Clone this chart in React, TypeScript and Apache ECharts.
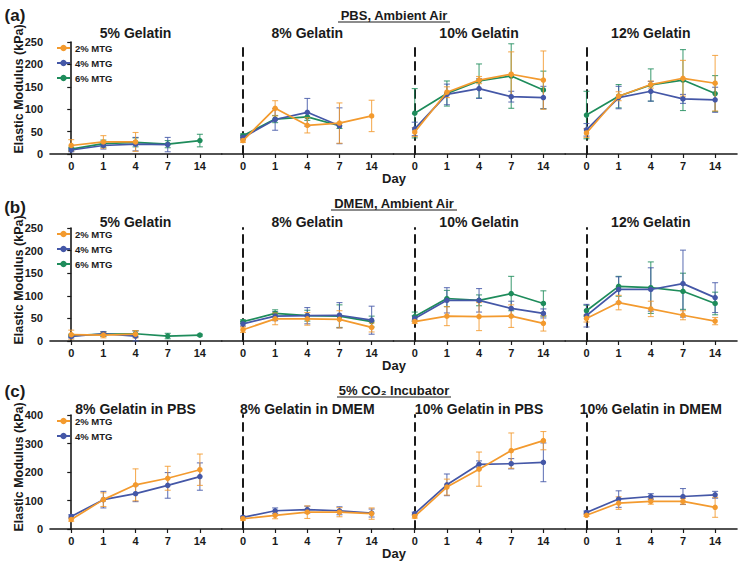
import React, { useEffect, useRef } from "react";
import * as echarts from "echarts";

// ---------- labels ----------
const DAYS = ["0", "1", "4", "7", "14"];
const MTG_NAMES = ["2% MTG", "4% MTG", "6% MTG"];
const ROW_LETTERS = ["(a)", "(b)", "(c)"];
const ROW_TITLES = ["PBS, Ambient Air", "DMEM, Ambient Air", "5% CO\u2082 Incubator"];
const PANEL_TITLES_AMBIENT = ["5% Gelatin", "8% Gelatin", "10% Gelatin", "12% Gelatin"];
const PANEL_TITLES_CO2 = ["8% Gelatin in PBS", "8% Gelatin in DMEM", "10% Gelatin in PBS", "10% Gelatin in DMEM"];
const Y_NAME = "Elastic Modulus (kPa)";
const X_NAME = "Day";
const Y_MAX = [250, 250, 400];
const Y_STEP = [50, 50, 100];

// ---------- (a) PBS, ambient air : mean / sd ----------
const pbs5_2 = [19, 27, 27];
const pbs5_2sd = [13, 14, 21];
const pbs5_4 = [9, 19, 22, 21];
const pbs5_4sd = [4, 8, 15, 16];
const pbs5_6 = [11, 23, 26, 22, 30];
const pbs5_6sd = [4, 8, 10, 8, 14];

const pbs8_2 = [30, 102, 64, 69, 85];
const pbs8_2sd = [4, 17, 17, 45, 35];
const pbs8_4 = [37, 77, 93, 63];
const pbs8_4sd = [5, 24, 31, 40];
const pbs8_6 = [41, 78, 83, 63];
const pbs8_6sd = [4, 8, 8, 6];

const pbs10_2 = [49, 138, 165, 178, 165];
const pbs10_2sd = [10, 12, 8, 50, 65];
const pbs10_4 = [56, 133, 146, 128, 126];
const pbs10_4sd = [15, 23, 22, 12, 25];
const pbs10_6 = [91, 135, 163, 174, 143];
const pbs10_6sd = [55, 28, 38, 72, 42];

const pbs12_2 = [47, 129, 155, 169, 158];
const pbs12_2sd = [10, 10, 8, 40, 62];
const pbs12_4 = [54, 126, 140, 123, 121];
const pbs12_4sd = [14, 25, 22, 10, 28];
const pbs12_6 = [87, 129, 154, 165, 135];
const pbs12_6sd = [53, 26, 36, 68, 40];

// ---------- (b) DMEM, ambient air ----------
const dm5_2 = [14, 13, 15];
const dm5_2sd = [10, 6, 8];
const dm5_4 = [10, 16, 11];
const dm5_4sd = [3, 5, 11];
const dm5_6 = [12, 15, 16, 11, 13];
const dm5_6sd = [3, 5, 7, 6, 2];

const dm8_2 = [25, 49, 49, 48, 30];
const dm8_2sd = [6, 13, 14, 19, 10];
const dm8_4 = [38, 55, 56, 57, 46];
const dm8_4sd = [5, 10, 18, 28, 31];
const dm8_6 = [43, 61, 56, 55, 43];
const dm8_6sd = [4, 8, 12, 25, 12];

const dm10_2 = [43, 55, 54, 55, 39];
const dm10_2sd = [4, 21, 31, 25, 17];
const dm10_4 = [50, 90, 90, 72, 61];
const dm10_4sd = [6, 28, 26, 16, 10];
const dm10_6 = [54, 94, 90, 105, 83];
const dm10_6sd = [10, 18, 12, 38, 28];

const dm12_2 = [50, 85, 71, 57, 44];
const dm12_2sd = [8, 16, 17, 10, 8];
const dm12_4 = [56, 114, 114, 127, 96];
const dm12_4sd = [25, 28, 48, 74, 33];
const dm12_6 = [67, 121, 118, 110, 83];
const dm12_6sd = [12, 22, 57, 40, 25];

// ---------- (c) 5% CO2 incubator ----------
const co8pbs_2 = [33, 103, 155, 178, 208];
const co8pbs_2sd = [6, 24, 56, 42, 55];
const co8pbs_4 = [44, 103, 124, 153, 184];
const co8pbs_4sd = [6, 29, 28, 45, 48];

const co8dm_2 = [36, 48, 59, 59, 54];
const co8dm_2sd = [5, 12, 22, 16, 20];
const co8dm_4 = [41, 64, 68, 64, 56];
const co8dm_4sd = [4, 10, 12, 14, 14];

const co10pbs_2 = [44, 147, 210, 275, 310];
const co10pbs_2sd = [6, 28, 60, 62, 32];
const co10pbs_4 = [54, 155, 227, 229, 234];
const co10pbs_4sd = [5, 38, 12, 18, 68];

const co10dm_2 = [48, 91, 97, 97, 76];
const co10dm_2sd = [4, 22, 10, 10, 35];
const co10dm_4 = [58, 105, 114, 114, 120];
const co10dm_4sd = [5, 29, 10, 28, 12];

// ---------- styling / layout ----------
const COLORS = ["#F39A2E", "#4457A7", "#1E8C5B"];
const FONT = "'Liberation Sans', Arial, Helvetica, sans-serif";
const INK = "#1a1a1a";
const GRID_X0 = 50;
const PANEL_W = 171.75;
const ROW_TOP = [42, 228, 415];
const ROW_H = [112, 113, 114];
const X_MIN = -0.66;
const X_MAX = 4.68;

type Panel = { title: string; series: [number[], number[]][] };

const ROWS: Panel[][] = [
  [
    { title: PANEL_TITLES_AMBIENT[0], series: [[pbs5_2, pbs5_2sd], [pbs5_4, pbs5_4sd], [pbs5_6, pbs5_6sd]] },
    { title: PANEL_TITLES_AMBIENT[1], series: [[pbs8_2, pbs8_2sd], [pbs8_4, pbs8_4sd], [pbs8_6, pbs8_6sd]] },
    { title: PANEL_TITLES_AMBIENT[2], series: [[pbs10_2, pbs10_2sd], [pbs10_4, pbs10_4sd], [pbs10_6, pbs10_6sd]] },
    { title: PANEL_TITLES_AMBIENT[3], series: [[pbs12_2, pbs12_2sd], [pbs12_4, pbs12_4sd], [pbs12_6, pbs12_6sd]] },
  ],
  [
    { title: PANEL_TITLES_AMBIENT[0], series: [[dm5_2, dm5_2sd], [dm5_4, dm5_4sd], [dm5_6, dm5_6sd]] },
    { title: PANEL_TITLES_AMBIENT[1], series: [[dm8_2, dm8_2sd], [dm8_4, dm8_4sd], [dm8_6, dm8_6sd]] },
    { title: PANEL_TITLES_AMBIENT[2], series: [[dm10_2, dm10_2sd], [dm10_4, dm10_4sd], [dm10_6, dm10_6sd]] },
    { title: PANEL_TITLES_AMBIENT[3], series: [[dm12_2, dm12_2sd], [dm12_4, dm12_4sd], [dm12_6, dm12_6sd]] },
  ],
  [
    { title: PANEL_TITLES_CO2[0], series: [[co8pbs_2, co8pbs_2sd], [co8pbs_4, co8pbs_4sd]] },
    { title: PANEL_TITLES_CO2[1], series: [[co8dm_2, co8dm_2sd], [co8dm_4, co8dm_4sd]] },
    { title: PANEL_TITLES_CO2[2], series: [[co10pbs_2, co10pbs_2sd], [co10pbs_4, co10pbs_4sd]] },
    { title: PANEL_TITLES_CO2[3], series: [[co10dm_2, co10dm_2sd], [co10dm_4, co10dm_4sd]] },
  ],
];

function buildOption() {
  const grid: any[] = [];
  const xAxis: any[] = [];
  const yAxis: any[] = [];
  const series: any[] = [];
  const legend: any[] = [];
  const graphic: any[] = [];

  const ROW_LETTER_Y = [15, 207, 391];
  const ROW_TITLE_Y = [15, 203, 390];
  const UNDERLINE_HALF = [56, 63, 57];
  const PANEL_TITLE_Y = [33, 222, 409];
  const DAY_Y = [178, 365, 553];
  const YNAME_Y = [89, 280, 467];

  ROWS.forEach((panels, r) => {
    panels.forEach((panel, p) => {
      const gi = r * 4 + p;
      const left = GRID_X0 + p * PANEL_W;
      grid.push({ left, top: ROW_TOP[r], width: PANEL_W, height: ROW_H[r], containLabel: false });
      xAxis.push({
        type: "value",
        gridIndex: gi,
        min: X_MIN,
        max: X_MAX,
        splitLine: { show: false },
        axisLine: { show: true, onZero: false, lineStyle: { color: INK, width: 1.6 } },
        axisTick: { show: true, customValues: [0, 1, 2, 3, 4], length: 4, lineStyle: { color: INK, width: 1.2 } },
        axisLabel: {
          customValues: [0, 1, 2, 3, 4],
          formatter: (v: number) => DAYS[Math.round(v)] ?? "",
          margin: 6,
          color: INK,
          fontSize: 11,
          fontWeight: "bold",
          fontFamily: FONT,
        },
      });
      const first = p === 0;
      yAxis.push({
        type: "value",
        gridIndex: gi,
        min: 0,
        max: Y_MAX[r],
        interval: Y_STEP[r],
        splitLine: { show: false },
        axisLine: {
          show: true,
          lineStyle: first
            ? { color: INK, width: 1.6 }
            : { color: INK, width: 2, type: [8, 6] },
        },
        axisTick: { show: first, length: 4, lineStyle: { color: INK, width: 1.2 } },
        axisLabel: {
          show: first,
          margin: 7,
          color: INK,
          fontSize: 11,
          fontWeight: "bold",
          fontFamily: FONT,
        },
      });

      panel.series.forEach(([mean, sd], s) => {
        const color = COLORS[s];
        const errData = mean.map((m, i) => [i, Math.max(0, m - sd[i]), m + sd[i]]);
        series.push({
          type: "custom",
          name: MTG_NAMES[s] + " error",
          xAxisIndex: gi,
          yAxisIndex: gi,
          z: 2 + (2 - s),
          data: errData,
          encode: { x: 0, y: [1, 2] },
          silent: true,
          renderItem: (_params: any, api: any) => {
            const x = api.value(0);
            const lo = api.coord([x, api.value(1)]);
            const hi = api.coord([x, api.value(2)]);
            const hw = 3;
            const st = { stroke: color, lineWidth: 1.1, opacity: 0.8 };
            return {
              type: "group",
              children: [
                { type: "line", shape: { x1: lo[0], y1: lo[1], x2: hi[0], y2: hi[1] }, style: st },
                { type: "line", shape: { x1: lo[0] - hw, y1: lo[1], x2: lo[0] + hw, y2: lo[1] }, style: st },
                { type: "line", shape: { x1: hi[0] - hw, y1: hi[1], x2: hi[0] + hw, y2: hi[1] }, style: st },
              ],
            };
          },
        });
        series.push({
          type: "line",
          name: MTG_NAMES[s],
          xAxisIndex: gi,
          yAxisIndex: gi,
          z: 3 + (2 - s) * 2,
          data: mean.map((m, i) => [i, m]),
          color,
          symbol: "circle",
          symbolSize: 5.5,
          lineStyle: { color, width: 1.7 },
          itemStyle: { color },
        });
      });

      graphic.push({
        type: "text",
        x: left + (-X_MIN + 2) * (PANEL_W / (X_MAX - X_MIN)),
        y: PANEL_TITLE_Y[r],
        style: {
          text: panel.title,
          fill: INK,
          font: `bold 14px ${FONT}`,
          align: "center",
          verticalAlign: "middle",
        },
      });
    });

    legend.push({
      orient: "vertical",
      left: 56,
      top: ROW_TOP[r] + 1,
      itemWidth: 13,
      itemHeight: 8,
      itemGap: 5,
      padding: 0,
      data: MTG_NAMES.slice(0, ROWS[r][0].series.length),
      textStyle: { color: INK, fontSize: 9.5, fontWeight: "bold", fontFamily: FONT, lineHeight: 10 },
    });

    graphic.push(
      {
        type: "text",
        x: 15,
        y: ROW_LETTER_Y[r],
        style: { text: ROW_LETTERS[r], fill: INK, font: `bold 17px ${FONT}`, align: "center", verticalAlign: "middle" },
      },
      {
        type: "text",
        x: 394,
        y: ROW_TITLE_Y[r],
        style: { text: ROW_TITLES[r], fill: INK, font: `bold 13px ${FONT}`, align: "center", verticalAlign: "middle" },
      },
      {
        type: "line",
        shape: { x1: 394 - UNDERLINE_HALF[r], y1: ROW_TITLE_Y[r] + 7, x2: 394 + UNDERLINE_HALF[r], y2: ROW_TITLE_Y[r] + 7 },
        style: { stroke: INK, lineWidth: 1.2 },
      },
      {
        type: "text",
        x: 394,
        y: DAY_Y[r],
        style: { text: X_NAME, fill: INK, font: `bold 13px ${FONT}`, align: "center", verticalAlign: "middle" },
      },
      {
        type: "text",
        x: 19,
        y: YNAME_Y[r],
        rotation: Math.PI / 2,
        style: { text: Y_NAME, fill: INK, font: `bold 12.5px ${FONT}`, align: "center", verticalAlign: "middle" },
      }
    );
  });

  return {
    animation: false,
    backgroundColor: "#ffffff",
    textStyle: { fontFamily: FONT },
    grid,
    xAxis,
    yAxis,
    legend,
    series,
    graphic,
  };
}

export default function App() {
  const ref = useRef<HTMLDivElement>(null);
  useEffect(() => {
    if (!ref.current) return;
    const chart = echarts.init(ref.current, undefined, { renderer: "svg" });
    chart.setOption(buildOption() as any);
    return () => chart.dispose();
  }, []);
  return (
    <div
      ref={ref}
      style={{ position: "fixed", left: 0, top: 0, width: 741, height: 568, background: "#fff" }}
    />
  );
}
